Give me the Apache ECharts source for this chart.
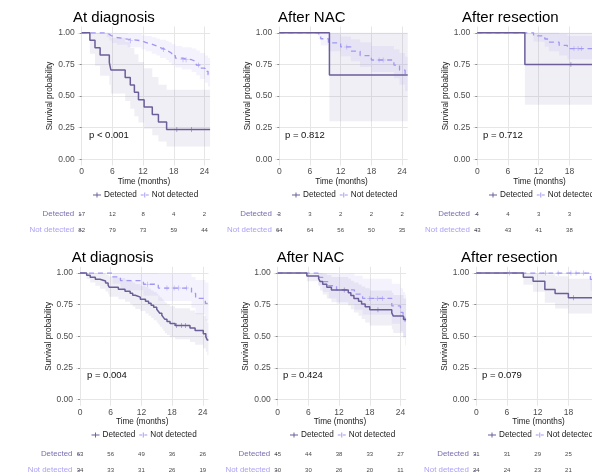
<!DOCTYPE html>
<html><head><meta charset="utf-8">
<script src="https://cdn.jsdelivr.net/npm/echarts@6/dist/echarts.min.js"></script>
<style>html,body{margin:0;padding:0;background:#fff}#c{width:592px;height:474px}</style>
</head><body><div id="c"></div><script>
// ---------- data ----------
const xTicks = [0, 6, 12, 18, 24];
const yTicks = [0, 0.25, 0.5, 0.75, 1];
const riskTimes = [0, 6, 12, 18, 24];
const groups = ['Detected', 'Not detected'];
const panelTitles = ['At diagnosis', 'After NAC', 'After resection', 'At diagnosis', 'After NAC', 'After resection'];
const pValues = ['p < 0.001', 'p = 0.812', 'p = 0.712', 'p = 0.004', 'p = 0.424', 'p = 0.079'];

// survival steps [time, survival]
const detA1 = [[0,1],[1.6,0.941],[2.6,0.882],[3.6,0.824],[5.4,0.765],[5.7,0.706],[8.5,0.647],[9.5,0.588],[10.3,0.529],[11.1,0.471],[12.2,0.412],[13.8,0.353],[15.0,0.294],[16.6,0.235]];
const ndA1 = [[0,1],[4.9,0.988],[5.4,0.975],[5.9,0.963],[6.9,0.95],[9.0,0.937],[11.7,0.924],[12.5,0.911],[13.7,0.896],[14.6,0.882],[15.3,0.868],[16.5,0.853],[17.0,0.838],[17.6,0.82],[18.3,0.80],[19.6,0.787],[21.5,0.772],[22.4,0.745],[23.1,0.72],[24.1,0.695],[24.7,0.668]];
const detB1 = [[0,1],[9.8,0.667]];
const ndB1 = [[0,1],[7.7,0.984],[8.1,0.953],[9.6,0.92],[12.0,0.888],[14.0,0.855],[15.8,0.82],[18.0,0.785],[22.4,0.745],[23.5,0.705],[24.6,0.665]];
const detC1 = [[0,1],[9.3,0.75]];
const ndC1 = [[0,1],[11.0,0.976],[13.2,0.951],[14.0,0.926],[16.0,0.90],[17.6,0.875]];
const detA2 = [[0,1],[1.3,0.984],[2.0,0.968],[3.0,0.952],[3.9,0.937],[5.0,0.921],[5.5,0.905],[5.7,0.889],[7.5,0.873],[8.8,0.857],[9.8,0.841],[10.3,0.825],[10.8,0.81],[11.8,0.794],[12.8,0.778],[13.4,0.762],[13.9,0.746],[14.4,0.73],[15.0,0.714],[15.3,0.698],[15.6,0.682],[16.0,0.666],[16.3,0.65],[16.6,0.634],[17.0,0.618],[17.6,0.601],[18.6,0.585],[21.5,0.565],[22.5,0.545],[24.1,0.52],[24.6,0.495],[24.9,0.47]];
const ndA2 = [[0,1],[6.4,0.97],[7.9,0.941],[12.4,0.912],[15.3,0.882],[21.8,0.84],[22.6,0.80],[24.5,0.76]];
const detB2 = [[0,1],[5.7,0.978],[8.0,0.956],[8.3,0.933],[8.8,0.911],[9.6,0.889],[10.5,0.867],[13.8,0.844],[14.3,0.822],[14.9,0.80],[15.8,0.778],[16.4,0.756],[17.1,0.733],[18.0,0.711],[22.3,0.685],[22.6,0.66],[24.6,0.632]];
const ndB2 = [[0,1],[7.9,0.967],[8.8,0.933],[10.0,0.90],[11.5,0.867],[15.0,0.833],[16.6,0.80],[22.3,0.74],[24.0,0.69],[24.5,0.645],[24.9,0.60]];
const detC2 = [[0,1],[9.2,0.968],[11.1,0.935],[13.4,0.871],[15.4,0.839],[18.0,0.806]];
const ndC2 = [[0,1],[22.3,0.95]];

// confidence bands [time, lower, upper]
const detBandA1 = [[0,1,1],[1.6,0.835,1],[2.6,0.74,1],[3.6,0.66,1],[5.4,0.59,0.99],[5.7,0.52,0.96],[8.5,0.46,0.93],[9.5,0.40,0.88],[10.3,0.34,0.83],[11.1,0.29,0.77],[12.2,0.24,0.72],[13.8,0.19,0.65],[15.0,0.14,0.59],[16.6,0.10,0.55]];
const ndBandA1 = [[0,1,1],[4.9,0.965,1],[5.4,0.94,1],[5.9,0.92,1],[6.9,0.905,0.998],[9.0,0.885,0.99],[11.7,0.87,0.98],[12.5,0.855,0.975],[13.7,0.835,0.965],[14.6,0.82,0.955],[15.3,0.80,0.945],[16.5,0.785,0.935],[17.0,0.765,0.925],[17.6,0.745,0.91],[18.3,0.725,0.895],[19.6,0.71,0.885],[21.5,0.69,0.875],[22.4,0.665,0.86],[23.1,0.635,0.84],[24.1,0.605,0.82],[24.7,0.575,0.80]];
const detBandB1 = [[0,1,1],[9.8,0.30,1]];
const ndBandB1 = [[0,1,1],[7.7,0.95,1],[8.1,0.90,1],[9.6,0.855,0.99],[12.0,0.815,0.97],[14.0,0.775,0.95],[15.8,0.73,0.925],[18.0,0.69,0.895],[22.4,0.64,0.87],[23.5,0.59,0.84],[24.6,0.54,0.81]];
const detBandC1 = [[0,1,1],[9.3,0.43,1]];
const ndBandC1 = [[0,1,1],[11.0,0.93,1],[13.2,0.89,1],[14.0,0.855,1],[16.0,0.82,0.99],[17.6,0.79,0.975]];
const detBandA2 = [[0,1,1],[1.3,0.953,1],[2.0,0.926,1],[3.0,0.90,1],[3.9,0.877,1],[5.0,0.855,0.99],[5.5,0.833,0.983],[5.7,0.812,0.973],[7.5,0.793,0.962],[8.8,0.773,0.95],[9.8,0.754,0.938],[10.3,0.735,0.926],[10.8,0.717,0.914],[11.8,0.70,0.90],[12.8,0.68,0.89],[13.4,0.663,0.876],[13.9,0.645,0.863],[14.4,0.627,0.85],[15.0,0.61,0.837],[15.3,0.593,0.823],[15.6,0.576,0.81],[16.0,0.559,0.795],[16.3,0.542,0.78],[16.6,0.525,0.767],[17.0,0.51,0.752],[17.6,0.493,0.737],[18.6,0.476,0.722],[21.5,0.455,0.705],[22.5,0.433,0.685],[24.1,0.405,0.66],[24.6,0.378,0.635],[24.9,0.35,0.61]];
const ndBandA2 = [[0,1,1],[6.4,0.915,1],[7.9,0.865,1],[12.4,0.82,1],[15.3,0.78,0.995],[21.8,0.725,0.97],[22.6,0.675,0.945],[24.5,0.625,0.925]];
const detBandB2 = [[0,1,1],[5.7,0.935,1],[8.0,0.897,1],[8.3,0.862,1],[8.8,0.83,0.995],[9.6,0.80,0.985],[10.5,0.77,0.97],[13.8,0.743,0.955],[14.3,0.715,0.94],[14.9,0.688,0.925],[15.8,0.662,0.91],[16.4,0.636,0.895],[17.1,0.61,0.88],[18.0,0.586,0.862],[22.3,0.555,0.845],[22.6,0.527,0.826],[24.6,0.495,0.80]];
const ndBandB2 = [[0,1,1],[7.9,0.905,1],[8.8,0.85,1],[10.0,0.80,1],[11.5,0.755,0.995],[15.0,0.71,0.98],[16.6,0.67,0.955],[22.3,0.60,0.915],[24.0,0.54,0.88],[24.5,0.485,0.85],[24.9,0.43,0.83]];
const detBandC2 = [[0,1,1],[9.2,0.908,1],[11.1,0.853,1],[13.4,0.765,0.99],[15.4,0.72,0.975],[18.0,0.68,0.955]];
const ndBandC2 = [[0,1,1],[22.3,0.86,1]];

// censoring times
const detCensA1 = [18.6, 21.5];
const ndCensA1 = [9.5, 16.0, 19.8, 20.4, 22.8];
const detCensB1 = [];
const ndCensB1 = [13.2, 19.5, 20.3];
const detCensC1 = [18.3];
const ndCensC1 = [18.9, 19.7, 20.4];
const detCensA2 = [18.9, 19.8, 20.6];
const ndCensA2 = [13.2, 17.0, 18.4, 19.3, 20.8];
const detCensB2 = [13.0, 19.6];
const ndCensB2 = [18.0, 19.5, 20.5];
const detCensC2 = [19.0];
const ndCensC2 = [6.5, 13.5, 16.0, 18.5, 19.5, 21.0];

// numbers at risk
const detRiskA1 = [17, 12, 8, 4, 2];
const ndRiskA1 = [82, 79, 73, 59, 44];
const detRiskB1 = [3, 3, 2, 2, 2];
const ndRiskB1 = [64, 64, 56, 50, 35];
const detRiskC1 = [4, 4, 3, 3];
const ndRiskC1 = [43, 43, 41, 38];
const detRiskA2 = [63, 56, 49, 36, 26];
const ndRiskA2 = [34, 33, 31, 26, 19];
const detRiskB2 = [45, 44, 38, 33, 27];
const ndRiskB2 = [30, 30, 26, 20, 11];
const detRiskC2 = [31, 31, 29, 25];
const ndRiskC2 = [24, 24, 23, 21];

// ---------- layout / style ----------
const X_MIN = -0.78, X_MAX = 25.1;
const DET_COLOR = '#6B5E9B', ND_COLOR = '#A097F2';
const DET_BAND = 'rgba(107,94,155,0.10)', ND_BAND = 'rgba(160,151,242,0.13)';
const gridLefts = [77.7, 275.3, 473.3, 76, 273.7, 472.3];
const rowTop = [26.5, 266.8];
const riskTop = [206, 446];
const GRID_W = 132.4, GRID_H = 139;
const titleLeft = [73, 278, 462, 71.7, 276.7, 461];
const titleTop = [10, 250];
const pLeft = [89, 285, 483, 87, 283, 482];
const pTop = [130.5, 370.5];
const legendLeft = [93, 292, 489, 91.5, 290, 488];
const legendTop = [191, 431];

const detSteps = [detA1, detB1, detC1, detA2, detB2, detC2];
const ndSteps = [ndA1, ndB1, ndC1, ndA2, ndB2, ndC2];
const detBands = [detBandA1, detBandB1, detBandC1, detBandA2, detBandB2, detBandC2];
const ndBands = [ndBandA1, ndBandB1, ndBandC1, ndBandA2, ndBandB2, ndBandC2];
const detCens = [detCensA1, detCensB1, detCensC1, detCensA2, detCensB2, detCensC2];
const ndCens = [ndCensA1, ndCensB1, ndCensC1, ndCensA2, ndCensB2, ndCensC2];
const detRisk = [detRiskA1, detRiskB1, detRiskC1, detRiskA2, detRiskB2, detRiskC2];
const ndRisk = [ndRiskA1, ndRiskB1, ndRiskC1, ndRiskA2, ndRiskB2, ndRiskC2];

const FONT = '"Liberation Sans", Arial, sans-serif';
const PLUS = 'path://M4.4,0h1.2v10H4.4z M0,4.4h10v1.2H0z';

function stepLine(steps) {
  const d = steps.map(p => [p[0], p[1]]);
  d.push([X_MAX, steps[steps.length - 1][1]]);
  return d;
}
function survAt(steps, t) {
  let s = 1;
  for (const p of steps) { if (p[0] <= t) s = p[1]; }
  return s;
}
function bandSeries(band, color, ai) {
  return {
    type: 'custom', name: 'band', xAxisIndex: ai, yAxisIndex: ai, silent: true, z: 1,
    data: [[band[0][0], band[0][1]]], encode: { x: 0, y: 1 },
    renderItem: function (params, api) {
      const up = [], lo = [];
      for (let i = 0; i < band.length; i++) {
        const t0 = band[i][0], t1 = i + 1 < band.length ? band[i + 1][0] : X_MAX;
        up.push(api.coord([t0, band[i][2]]), api.coord([t1, band[i][2]]));
        lo.push(api.coord([t0, band[i][1]]), api.coord([t1, band[i][1]]));
      }
      return { type: 'polygon', shape: { points: up.concat(lo.reverse()) }, style: { fill: color } };
    }
  };
}

const grid = [], xAxis = [], yAxis = [], series = [], title = [], legend = [];
for (let i = 0; i < 6; i++) {
  const row = i < 3 ? 0 : 1;
  const mi = 2 * i, ri = 2 * i + 1;
  grid.push({ left: gridLefts[i], top: rowTop[row], width: GRID_W, height: GRID_H,
    containLabel: false, outerBoundsMode: 'none' });
  grid.push({ left: gridLefts[i], top: riskTop[row], width: GRID_W, height: 32,
    containLabel: false, outerBoundsMode: 'none' });
  xAxis.push({
    type: 'value', gridIndex: mi, min: X_MIN, max: X_MAX,
    axisLine: { show: false },
    axisTick: { show: false, customValues: xTicks },
    axisLabel: { customValues: xTicks, fontSize: 8.5, color: '#4D4D4D', margin: 2, fontFamily: FONT },
    splitLine: { show: true, lineStyle: { color: '#E6E6E6', width: 1 } },
    name: 'Time (months)', nameLocation: 'middle', nameGap: 8.5,
    nameTextStyle: { fontSize: 8.2, color: '#1A1A1A', fontFamily: FONT, verticalAlign: 'top' }
  });
  xAxis.push({ type: 'value', gridIndex: ri, min: X_MIN, max: X_MAX, show: false });
  yAxis.push({
    type: 'value', gridIndex: mi, min: -0.05, max: 1.05,
    axisLine: { show: false },
    axisTick: { show: true, customValues: yTicks, length: 2, lineStyle: { color: '#4D4D4D', width: 0.6 } },
    axisLabel: { customValues: yTicks, fontSize: 8.5, color: '#4D4D4D', margin: 3, fontFamily: FONT,
      formatter: v => v.toFixed(2) },
    splitLine: { show: true, lineStyle: { color: '#E6E6E6', width: 1 } },
    name: 'Survival probability', nameLocation: 'middle', nameGap: 23.5, nameRotate: 90,
    nameTextStyle: { fontSize: 8.2, color: '#1A1A1A', fontFamily: FONT }
  });
  yAxis.push({
    type: 'category', gridIndex: ri, data: groups, inverse: true,
    axisLine: { show: false },
    axisTick: { show: true, alignWithLabel: true, length: 2.5, lineStyle: { color: '#8A80BE', width: 0.7 } },
    axisLabel: { fontSize: 7.9, margin: 3.5, fontFamily: FONT,
      color: (v, idx) => (v === 'Detected' ? '#7A6CB0' : '#ABA2F6') },
    splitLine: { show: false }
  });

  series.push(bandSeries(detBands[i], DET_BAND, mi));
  series.push(bandSeries(ndBands[i], ND_BAND, mi));
  series.push({
    type: 'line', name: 'Not detected', xAxisIndex: mi, yAxisIndex: mi, step: 'end', showSymbol: false,
    data: stepLine(ndSteps[i]), z: 3, silent: true,
    itemStyle: { color: ND_COLOR }, lineStyle: { color: ND_COLOR, width: 1.3, type: [5, 4] }
  });
  series.push({
    type: 'line', name: 'Detected', xAxisIndex: mi, yAxisIndex: mi, step: 'end', showSymbol: false,
    data: stepLine(detSteps[i]), z: 4, silent: true,
    itemStyle: { color: DET_COLOR }, lineStyle: { color: DET_COLOR, width: 1.5 }
  });
  series.push({
    type: 'scatter', name: 'cens', xAxisIndex: mi, yAxisIndex: mi, symbol: PLUS, symbolSize: 5, z: 5, silent: true,
    data: ndCens[i].map(t => [t, survAt(ndSteps[i], t)]), itemStyle: { color: ND_COLOR }
  });
  series.push({
    type: 'scatter', name: 'cens', xAxisIndex: mi, yAxisIndex: mi, symbol: PLUS, symbolSize: 5, z: 5, silent: true,
    data: detCens[i].map(t => [t, survAt(detSteps[i], t)]), itemStyle: { color: DET_COLOR }
  });
  series.push({
    type: 'scatter', name: 'risk', xAxisIndex: ri, yAxisIndex: ri, symbolSize: 0, silent: true,
    data: detRisk[i].map((n, k) => [riskTimes[k], 'Detected', n]).concat(
          ndRisk[i].map((n, k) => [riskTimes[k], 'Not detected', n])),
    encode: { x: 0, y: 1 },
    label: { show: true, position: 'inside', formatter: p => String(p.value[2]), fontSize: 6, color: '#111', fontFamily: FONT }
  });

  title.push({ text: panelTitles[i], left: titleLeft[i], top: titleTop[row], padding: 0,
    textStyle: { fontSize: 15, fontWeight: 'normal', color: '#000', fontFamily: FONT } });
  title.push({ text: pValues[i], left: pLeft[i], top: pTop[row], padding: 0,
    textStyle: { fontSize: 9.5, fontWeight: 'normal', color: '#111', fontFamily: FONT } });

  legend.push({
    left: legendLeft[i], top: legendTop[row], width: 220, orient: 'horizontal',
    padding: 0, itemGap: 4, itemWidth: 8, itemHeight: 6,
    selectedMode: false,
    textStyle: { fontSize: 8.2, color: '#1A1A1A', fontFamily: FONT, padding: [0, 0, 0, -2] },
    data: [
      { name: 'Detected', icon: 'path://M0,2.4h10v1.2H0z M4.4,0h1.2v6H4.4z', itemStyle: { color: DET_COLOR } },
      { name: 'Not detected', icon: 'path://M0,2.4h3.6v1.2H0z M6.4,2.4h3.6v1.2H6.4z M4.4,0h1.2v6H4.4z', itemStyle: { color: ND_COLOR } }
    ]
  });
}

const chart = echarts.init(document.getElementById('c'), null, { renderer: 'canvas' });
chart.setOption({
  animation: false,
  backgroundColor: '#fff',
  textStyle: { fontFamily: FONT },
  title, legend, grid, xAxis, yAxis, series
});
</script></body></html>
